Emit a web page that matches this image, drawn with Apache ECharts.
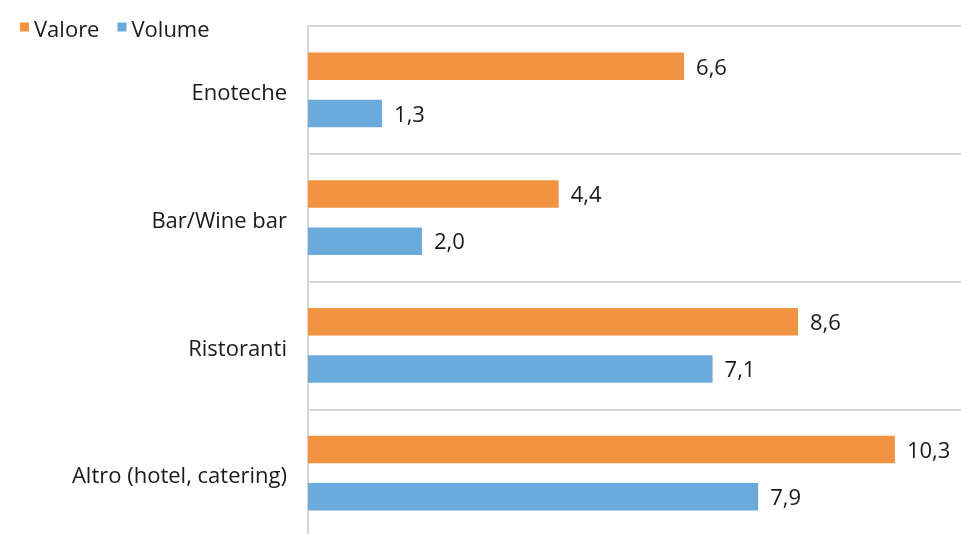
<!DOCTYPE html>
<html>
<head>
<meta charset="utf-8">
<script src="https://cdn.jsdelivr.net/npm/echarts@6/dist/echarts.min.js"></script>
<style>
  html, body { margin: 0; padding: 0; background: #fff; }
  #chart { width: 961px; height: 534px; }
</style>
</head>
<body>
<div id="chart"></div>
<script>
// dati
const categories = ['Enoteche', 'Bar/Wine bar', 'Ristoranti', 'Altro (hotel, catering)'];
const valore = [6.6, 4.4, 8.6, 10.3];
const volume = [1.3, 2.0, 7.1, 7.9];

const FONT = 'Open Sans';
const FS = 22;
const orange = '#F29342';
const blue = '#6BAADC';
const lineGray = '#d6d6d6';

const chart = echarts.init(document.getElementById('chart'));

// numeri con la virgola decimale
const fmt = (p) => p.value.toFixed(1).replace('.', ',');

// quadratino del legend spostato in alto (tipo apice)
const legendIcon = 'path://M0,0H9V9H0Z M0,17H0.01V17.01H0Z';

// etichette spostate un po' in basso: verticalAlign top + lineHeight piccolo
const valueLabel = {
  show: true, position: 'right', distance: 12, fontSize: FS, color: '#1a1a1a',
  formatter: fmt, verticalAlign: 'top', lineHeight: 4
};

chart.setOption({
  backgroundColor: '#fff',
  textStyle: { fontFamily: FONT },
  legend: {
    left: 15,
    top: 15,
    itemWidth: 9,
    itemHeight: 18,
    itemGap: 18,
    icon: legendIcon,
    textStyle: { fontSize: FS, color: '#1a1a1a', fontFamily: FONT },
    data: ['Valore', 'Volume']
  },
  grid: {
    left: 308,
    right: 0,
    top: 26,
    height: 511,
    outerBoundsMode: 'none',
    containLabel: false
  },
  xAxis: {
    type: 'value',
    min: 0,
    max: 11.46,
    show: false
  },
  yAxis: {
    type: 'category',
    data: categories,
    inverse: true,
    axisLine: { show: true, lineStyle: { color: lineGray, width: 2 } },
    axisTick: { show: false },
    axisLabel: {
      fontSize: FS, color: '#1a1a1a', margin: 21, fontFamily: FONT,
      verticalAlign: 'top', lineHeight: 8
    },
    splitLine: { show: true, interval: 0, lineStyle: { color: lineGray, width: 2 } }
  },
  series: [
    {
      name: 'Valore',
      type: 'bar',
      data: valore,
      barWidth: 27.5,
      barGap: '71%',
      itemStyle: { color: orange },
      label: valueLabel,
      animation: false
    },
    {
      name: 'Volume',
      type: 'bar',
      data: volume,
      barWidth: 27.5,
      itemStyle: { color: blue },
      label: valueLabel,
      animation: false
    }
  ]
});
</script>
</body>
</html>
